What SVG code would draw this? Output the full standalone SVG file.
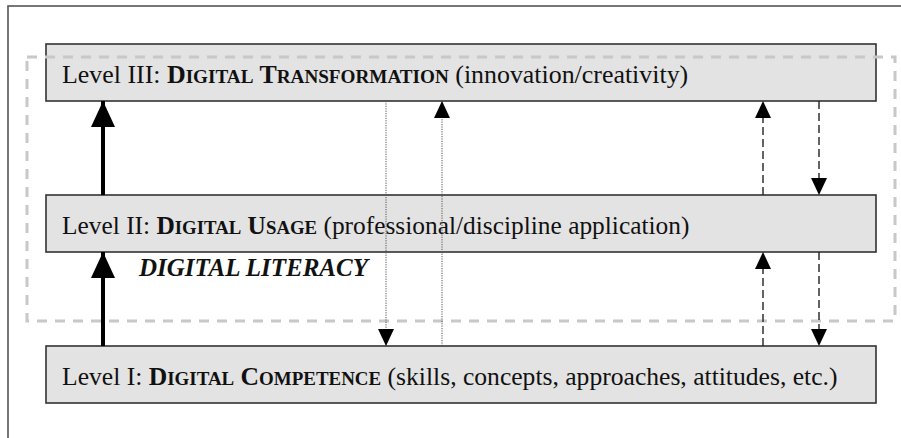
<svg xmlns="http://www.w3.org/2000/svg" width="901" height="438" viewBox="0 0 901 438">
<style>
.box{fill:#e3e3e3;stroke:#333;stroke-width:1.6}
.lbl{font-family:"Liberation Serif","Times New Roman",serif;font-size:25.7px;fill:#111}
.b{font-weight:bold}
.s{font-size:0.74em}
.thick{stroke:#000;stroke-width:4;fill:none}
.dot{stroke:#555;stroke-width:1;stroke-dasharray:1.2 1.2;fill:none}
.dash{stroke:#222;stroke-width:1.4;stroke-dasharray:8 4;fill:none}
</style>
<defs>
<marker id="big" viewBox="0 0 26 24" refX="26" refY="12" markerWidth="26" markerHeight="24" markerUnits="userSpaceOnUse" orient="auto">
<path d="M0,0 L26,12 L0,24 Z" fill="#000"/>
</marker>
<marker id="sm" viewBox="0 0 17 16" refX="17" refY="8" markerWidth="17" markerHeight="16" markerUnits="userSpaceOnUse" orient="auto">
<path d="M0,0 L17,8 L0,16 Z" fill="#000"/>
</marker>
</defs>
<rect x="0" y="0" width="901" height="438" fill="#fff"/>
<rect x="8" y="6" width="920" height="460" fill="none" stroke="#555" stroke-width="1.6"/>
<g id="level3">
<rect class="box" x="46" y="44" width="830" height="57"/>
<text class="lbl" x="62" y="83" style="font-size:25.9px">Level III: <tspan class="b">D<tspan class="s">IGITAL</tspan> T<tspan class="s">RANSFORMATION</tspan></tspan> (innovation/creativity)</text>
</g>
<g id="level2">
<rect class="box" x="46" y="195" width="830" height="57"/>
<text class="lbl" x="62" y="234" style="font-size:25.4px">Level II: <tspan class="b">D<tspan class="s">IGITAL</tspan> U<tspan class="s">SAGE</tspan></tspan> (professional/discipline application)</text>
</g>
<g id="level1">
<rect class="box" x="46" y="346" width="830" height="57"/>
<text class="lbl" x="62" y="385" style="font-size:25.6px">Level I: <tspan class="b">D<tspan class="s">IGITAL</tspan> C<tspan class="s">OMPETENCE</tspan></tspan> (skills, concepts, approaches, attitudes, etc.)</text>
</g>
<g id="digital-literacy">
<rect x="27" y="57" width="868" height="264" fill="none" stroke="#c8c8c8" stroke-width="3" stroke-dasharray="10 8"/>
<text x="139" y="276" font-family="'Liberation Serif','Times New Roman',serif" font-size="25" font-weight="bold" font-style="italic" fill="#111">DIGITAL LITERACY</text>
</g>
<g id="connectors">
<path class="thick" d="M103,195 V101" marker-end="url(#big)"/>
<path class="thick" d="M103,346 V252" marker-end="url(#big)"/>
<path class="dot" d="M386,101 V346" marker-end="url(#sm)"/>
<path class="dot" d="M442,346 V101" marker-end="url(#sm)"/>
<path class="dash" d="M763,195 V101" marker-end="url(#sm)"/>
<path class="dash" d="M819,101 V195" marker-end="url(#sm)"/>
<path class="dash" d="M763,346 V252" marker-end="url(#sm)"/>
<path class="dash" d="M819,252 V346" marker-end="url(#sm)"/>
</g>
</svg>
